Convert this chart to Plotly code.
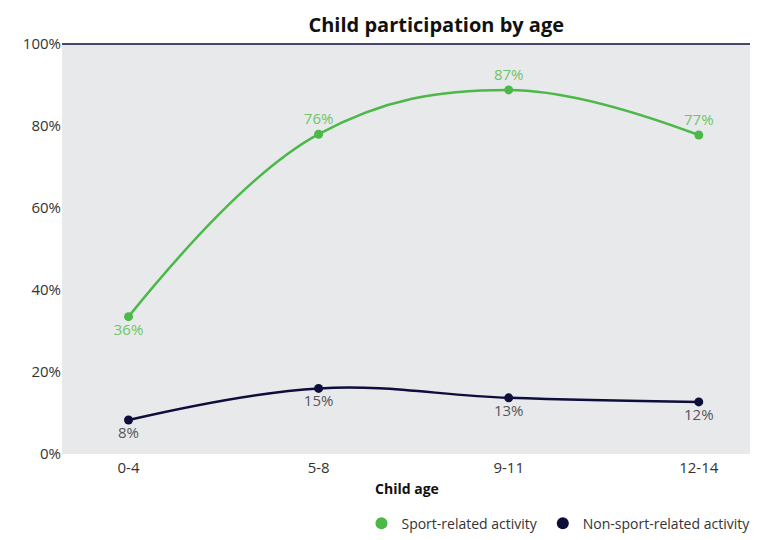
import plotly.graph_objects as go

ages = ["0-4", "5-8", "9-11", "12-14"]
sport = [33.5, 78, 88.8, 77.8]
sport_labels = ["36%", "76%", "87%", "77%"]
non_sport = [8.3, 16, 13.7, 12.7]
non_sport_labels = ["8%", "15%", "13%", "12%"]

green = "#4cb848"
navy = "#0e0e3c"

fig = go.Figure()
fig.add_trace(go.Scatter(
    x=ages, y=sport, mode="lines+markers+text", showlegend=False,
    line=dict(color=green, width=2.5, shape="spline", smoothing=1.1),
    marker=dict(size=9, color=green),
    text=sport_labels, textposition=["bottom center", "top center", "top center", "top center"],
    textfont=dict(color="#6cc56a", size=15),
))
fig.add_trace(go.Scatter(
    x=ages, y=non_sport, mode="lines+markers+text", showlegend=False,
    line=dict(color=navy, width=2.5, shape="spline", smoothing=1.1),
    marker=dict(size=9, color=navy),
    text=non_sport_labels, textposition="bottom center",
    textfont=dict(color="#555560", size=15),
))
# legend entries (markers only)
for name, c in [("Sport-related activity", green), ("Non-sport-related activity", navy)]:
    fig.add_trace(go.Scatter(x=[None], y=[None], mode="markers", name=name,
                             marker=dict(size=12, color=c)))

fig.update_layout(
    width=758, height=540,
    margin=dict(l=54, r=14, t=36, b=94, autoexpand=False),
    paper_bgcolor="white", plot_bgcolor="#e8e9eb",
    font=dict(family="Open Sans", color="#333"),
    title=dict(text="<b>Child participation by age</b>", x=0.565, xanchor="center",
               yref="container", y=0.968, yanchor="middle",
               font=dict(size=20, color="#111")),
    showlegend=True,
    legend=dict(orientation="h", x=1.005, xanchor="right", y=-0.17, yanchor="middle",
                itemwidth=30, font=dict(size=14, color="#333")),
    xaxis=dict(title=dict(text="<b>Child age</b>", font=dict(size=14, color="#111"), standoff=8),
               range=[-0.35, 3.28],
               tickfont=dict(size=15), showgrid=False, ticks="outside", ticklen=0),
    yaxis=dict(range=[0, 100], dtick=20, ticksuffix="%", showgrid=False, zeroline=False,
               tickfont=dict(size=15), showline=False),
)
fig.add_shape(type="line", xref="paper", yref="paper", x0=0, x1=1, y0=1, y1=1,
              line=dict(color=navy, width=1.5))
fig.write_html("out.html")
